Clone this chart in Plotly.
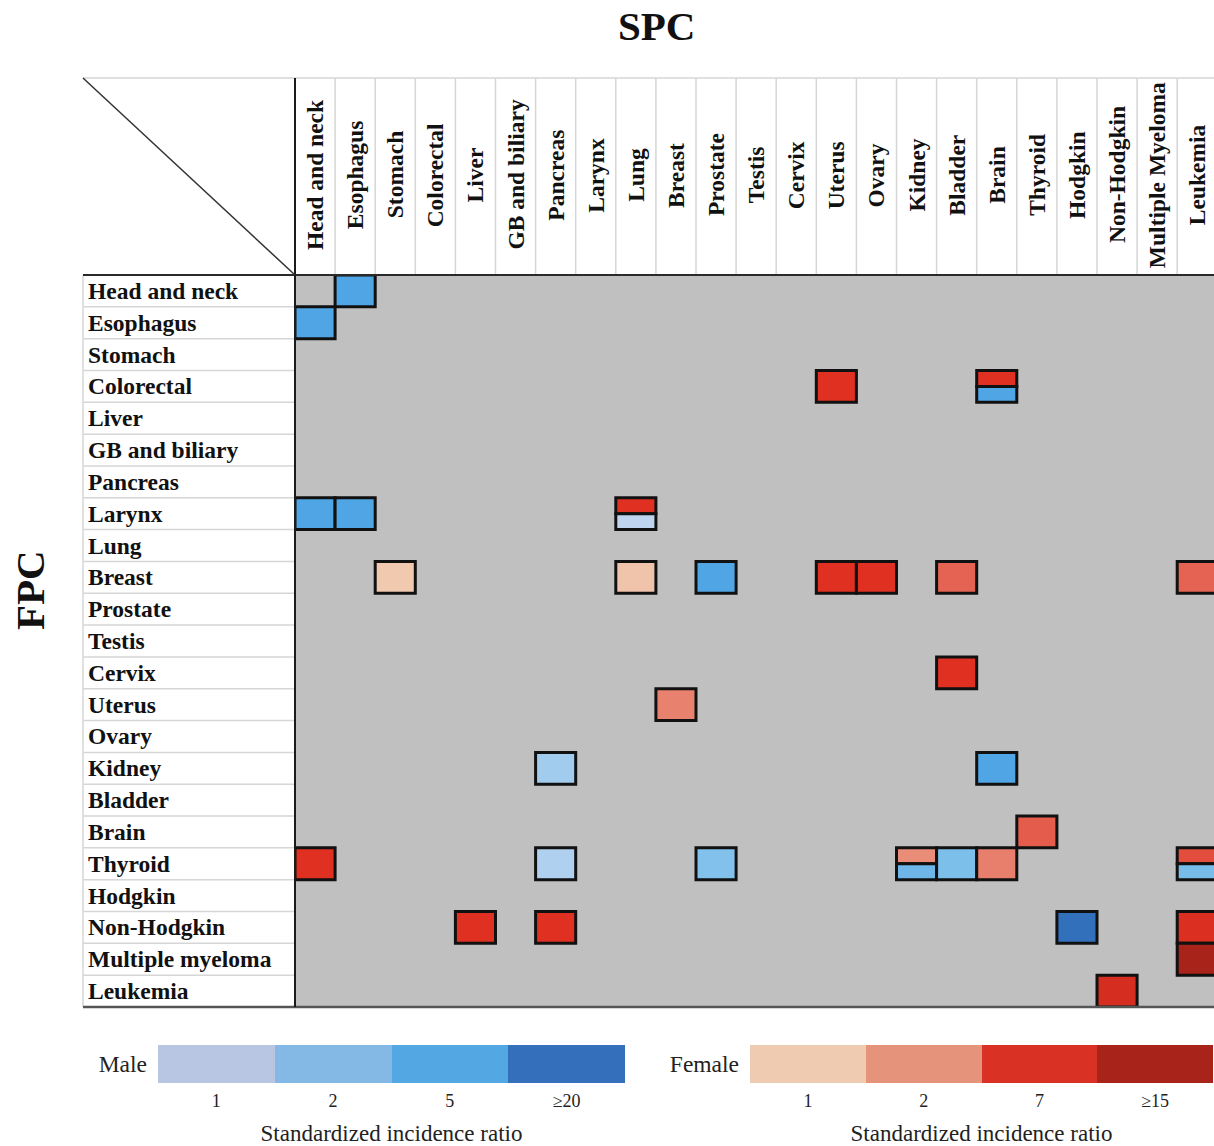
import math
import plotly.graph_objects as go

W, H = 1214, 1146

# First primary cancer (rows) and second primary cancer (columns)
fpc_sites = ["Head and neck", "Esophagus", "Stomach", "Colorectal", "Liver",
             "GB and biliary", "Pancreas", "Larynx", "Lung", "Breast", "Prostate",
             "Testis", "Cervix", "Uterus", "Ovary", "Kidney", "Bladder", "Brain",
             "Thyroid", "Hodgkin", "Non-Hodgkin", "Multiple myeloma", "Leukemia"]
spc_sites = ["Head and neck", "Esophagus", "Stomach", "Colorectal", "Liver",
             "GB and biliary", "Pancreas", "Larynx", "Lung", "Breast", "Prostate",
             "Testis", "Cervix", "Uterus", "Ovary", "Kidney", "Bladder", "Brain",
             "Thyroid", "Hodgkin", "Non-Hodgkin", "Multiple Myeloma", "Leukemia"]

# Significant FPC -> SPC pairs with standardized incidence ratios by sex
cell_fpc = ["Head and neck", "Esophagus", "Colorectal", "Colorectal", "Larynx", "Larynx",
            "Larynx", "Breast", "Breast", "Breast", "Breast", "Breast", "Breast", "Breast",
            "Cervix", "Uterus", "Kidney", "Kidney", "Brain", "Thyroid", "Thyroid", "Thyroid",
            "Thyroid", "Thyroid", "Thyroid", "Thyroid", "Non-Hodgkin", "Non-Hodgkin",
            "Non-Hodgkin", "Non-Hodgkin", "Multiple myeloma", "Leukemia"]
cell_spc = ["Esophagus", "Head and neck", "Uterus", "Brain", "Head and neck", "Esophagus",
            "Lung", "Stomach", "Lung", "Prostate", "Uterus", "Ovary", "Bladder", "Leukemia",
            "Bladder", "Breast", "Pancreas", "Brain", "Thyroid", "Head and neck", "Pancreas",
            "Prostate", "Kidney", "Bladder", "Brain", "Leukemia", "Liver", "Pancreas",
            "Hodgkin", "Leukemia", "Leukemia", "Non-Hodgkin"]
male_sir = [5, 5, None, 5, 5, 5,
            1.1, None, None, 5, None, None, None, None,
            None, None, 1.5, 5, None, None, 1.3,
            2.1, 3, 2.3, None, 2.5, None, None,
            20, None, None, None]
female_sir = [None, None, 7, 7, None, None,
              7, 1, 1.05, None, 7, 7, 3.2, 3.2,
              7, 2, None, None, 3.6, 7, None,
              None, 1.8, None, 2.1, 4.5, 7, 7,
              None, 7.5, 15, 8]

# Legend scales
male_levels = ["1", "2", "5", "≥20"]
female_levels = ["1", "2", "7", "≥15"]
male_legend_colors = ["#b8c6e4", "#84b9e5", "#53a8e4", "#346fbb"]
female_legend_colors = ["#efcbb1", "#e6937c", "#d93124", "#a8231a"]

# Cell colour ramps (log-interpolated between anchor SIR values)
male_ramp = [(1, "#c8d8ef"), (2, "#85c3ec"), (5, "#50a6e4"), (20, "#3370bb")]
female_ramp = [(1, "#f0c9ae"), (2, "#e8826f"), (7, "#df3022"), (15, "#a8231a")]


def hex_rgb(h):
    h = h.lstrip("#")
    return [int(h[i:i + 2], 16) for i in (0, 2, 4)]


def ramp_color(value, ramp):
    if value <= ramp[0][0]:
        return ramp[0][1]
    if value >= ramp[-1][0]:
        return ramp[-1][1]
    for (v0, c0), (v1, c1) in zip(ramp[:-1], ramp[1:]):
        if v0 <= value <= v1:
            t = (math.log(value) - math.log(v0)) / (math.log(v1) - math.log(v0))
            a, b = hex_rgb(c0), hex_rgb(c1)
            rgb = [round(a[k] + t * (b[k] - a[k])) for k in range(3)]
            return "rgb({},{},{})".format(*rgb)


def px_x(v):
    return v / W


def px_y(v):
    return 1 - v / H


GRID_L, GRID_T, GRID_B = 295, 275, 1007
LABEL_L, HEAD_T = 83, 78
col_w = 40.1
n_rows = len(fpc_sites)
x_hi = -0.5 + (W - GRID_L) / col_w

FONT_B = "Liberation Serif"
LABEL_SIZE = 23.5

fig = go.Figure()
shapes = []
annotations = []

# Coloured cells: female on top half, male on bottom half when both present
for f, s, m, fe in zip(cell_fpc, cell_spc, male_sir, female_sir):
    r = fpc_sites.index(f)
    c = spc_sites.index(s)
    if fe is not None and m is not None:
        parts = [(r - 0.5, r, ramp_color(fe, female_ramp)),
                 (r, r + 0.5, ramp_color(m, male_ramp))]
    elif fe is not None:
        parts = [(r - 0.5, r + 0.5, ramp_color(fe, female_ramp))]
    else:
        parts = [(r - 0.5, r + 0.5, ramp_color(m, male_ramp))]
    for y0, y1, col in parts:
        shapes.append(dict(type="rect", xref="x", yref="y",
                           x0=c - 0.5, x1=c + 0.5, y0=y0, y1=y1,
                           fillcolor=col, line=dict(color="#111111", width=3),
                           layer="above"))

# Invisible trace so the main axes are drawn
fig.add_trace(go.Scatter(x=[0], y=[0], mode="markers",
                         marker=dict(opacity=0), hoverinfo="skip",
                         showlegend=False, xaxis="x", yaxis="y"))

# Table frame: header column separators
for c in range(len(spc_sites) - 1):
    shapes.append(dict(type="line", xref="x", yref="paper",
                       x0=c + 0.5, x1=c + 0.5, y0=px_y(HEAD_T), y1=px_y(GRID_T),
                       line=dict(color="#d6d6d6", width=1.5)))
# row separators in the label column
for r in range(n_rows - 1):
    shapes.append(dict(type="line", xref="paper", yref="y",
                       x0=px_x(LABEL_L), x1=px_x(GRID_L), y0=r + 0.5, y1=r + 0.5,
                       line=dict(color="#d6d6d6", width=1.5)))
# outer light lines
shapes.append(dict(type="line", xref="paper", yref="paper",
                   x0=px_x(LABEL_L), x1=1, y0=px_y(HEAD_T), y1=px_y(HEAD_T),
                   line=dict(color="#d6d6d6", width=1.5)))
shapes.append(dict(type="line", xref="paper", yref="paper",
                   x0=px_x(LABEL_L), x1=px_x(LABEL_L), y0=px_y(GRID_T), y1=px_y(GRID_B),
                   line=dict(color="#d6d6d6", width=1.5)))
# dark lines
shapes.append(dict(type="line", xref="paper", yref="paper",
                   x0=px_x(LABEL_L), x1=1, y0=px_y(GRID_T), y1=px_y(GRID_T),
                   line=dict(color="#2a2a2a", width=2)))
shapes.append(dict(type="line", xref="paper", yref="paper",
                   x0=px_x(LABEL_L), x1=1, y0=px_y(GRID_B), y1=px_y(GRID_B),
                   line=dict(color="#555555", width=2.5)))
shapes.append(dict(type="line", xref="paper", yref="paper",
                   x0=px_x(GRID_L), x1=px_x(GRID_L), y0=px_y(HEAD_T), y1=px_y(GRID_B),
                   line=dict(color="#1a1a1a", width=2)))
# diagonal in the corner cell
shapes.append(dict(type="line", xref="paper", yref="paper",
                   x0=px_x(LABEL_L), x1=px_x(GRID_L), y0=px_y(HEAD_T), y1=px_y(GRID_T),
                   line=dict(color="#333333", width=1.5)))

# Row labels
for r, name in enumerate(fpc_sites):
    annotations.append(dict(text="<b>%s</b>" % name, xref="paper", yref="y",
                            x=px_x(86), y=r, xanchor="left", yanchor="middle",
                            showarrow=False,
                            font=dict(family=FONT_B, size=LABEL_SIZE, color="#111111")))
# Column labels (rotated)
for c, name in enumerate(spc_sites):
    annotations.append(dict(text="<b>%s</b>" % name, xref="x", yref="paper",
                            x=c, y=px_y(175), xanchor="center", yanchor="middle",
                            textangle=-90, showarrow=False,
                            font=dict(family=FONT_B, size=LABEL_SIZE, color="#111111")))

# Axis titles of the table
annotations.append(dict(text="<b>SPC</b>", xref="paper", yref="paper",
                        x=px_x(656), y=px_y(26), xanchor="center", yanchor="middle",
                        showarrow=False, font=dict(family=FONT_B, size=41, color="#111111")))
annotations.append(dict(text="<b>FPC</b>", xref="paper", yref="paper",
                        x=px_x(30), y=px_y(590), xanchor="center", yanchor="middle",
                        textangle=-90, showarrow=False,
                        font=dict(family=FONT_B, size=41, color="#111111")))


# Legend bars as discrete heatmaps
def step_scale(colors):
    n = len(colors)
    sc = []
    for i, col in enumerate(colors):
        sc.append([i / n, col])
        sc.append([(i + 1) / n, col])
    return sc


fig.add_trace(go.Heatmap(z=[[0, 1, 2, 3]], x=male_levels, y=["Male"],
                         colorscale=step_scale(male_legend_colors), zmin=0, zmax=3,
                         showscale=False, hoverinfo="skip",
                         xaxis="x2", yaxis="y2"))
fig.add_trace(go.Heatmap(z=[[0, 1, 2, 3]], x=female_levels, y=["Female"],
                         colorscale=step_scale(female_legend_colors), zmin=0, zmax=3,
                         showscale=False, hoverinfo="skip",
                         xaxis="x3", yaxis="y3"))

legend_x_axis = dict(type="category", showgrid=False, zeroline=False, ticks="",
                     showline=False, fixedrange=True, ticklabelstandoff=5,
                     tickfont=dict(family=FONT_B, size=18, color="#222222"),
                     title=dict(text="Standardized incidence ratio", standoff=14,
                                font=dict(family=FONT_B, size=23, color="#222222")))
legend_y_axis = dict(type="category", showgrid=False, zeroline=False, ticks="",
                     showline=False, fixedrange=True, ticklabelstandoff=10,
                     tickfont=dict(family=FONT_B, size=23.5, color="#222222"))

bar_y = [px_y(1083), px_y(1045)]

fig.update_layout(
    width=W, height=H,
    margin=dict(l=0, r=0, t=0, b=0),
    paper_bgcolor="white",
    plot_bgcolor="#c0c0c0",
    showlegend=False,
    xaxis=dict(domain=[px_x(GRID_L), 1], range=[-0.5, x_hi], showgrid=False,
               zeroline=False, showticklabels=False, ticks="", fixedrange=True,
               anchor="y"),
    yaxis=dict(domain=[px_y(GRID_B), px_y(GRID_T)], range=[n_rows - 0.5, -0.5],
               showgrid=False, zeroline=False, showticklabels=False, ticks="",
               fixedrange=True, anchor="x"),
    xaxis2=dict(domain=[px_x(158), px_x(625)], anchor="y2", **legend_x_axis),
    yaxis2=dict(domain=bar_y, anchor="x2", **legend_y_axis),
    xaxis3=dict(domain=[px_x(750), px_x(1213)], anchor="y3", **legend_x_axis),
    yaxis3=dict(domain=bar_y, anchor="x3", **legend_y_axis),
    shapes=shapes,
    annotations=annotations,
)

fig.write_html("out.html")
